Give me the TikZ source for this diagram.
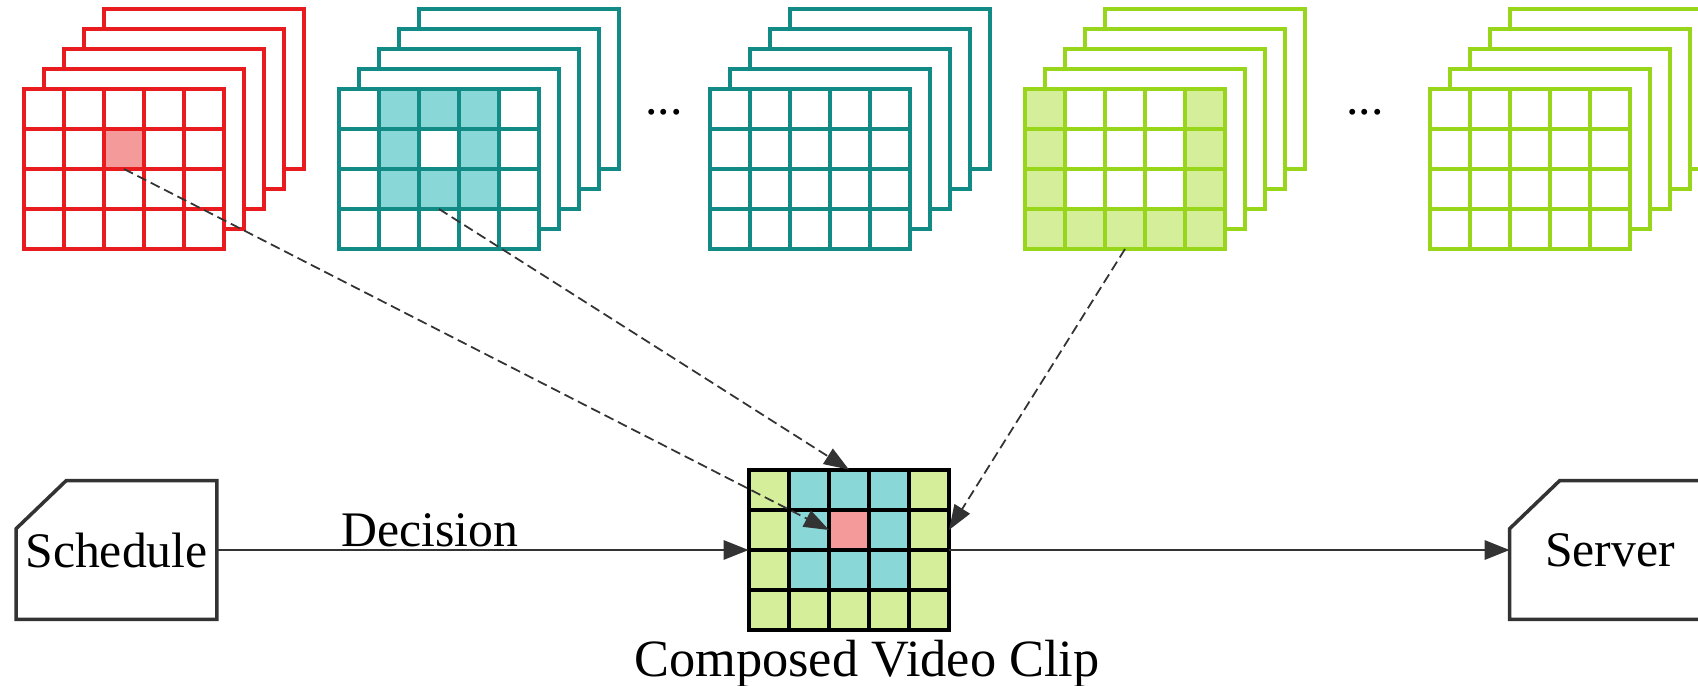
\documentclass[tikz,border=0pt]{standalone}
\usepackage{fontspec}
\setmainfont{Liberation Serif}
\usetikzlibrary{arrows.meta,positioning}

\definecolor{vred}{RGB}{232,28,30}
\definecolor{vredfill}{RGB}{244,154,154}
\definecolor{vteal}{RGB}{18,138,134}
\definecolor{vtealfill}{RGB}{138,215,215}
\definecolor{vgreen}{RGB}{152,214,28}
\definecolor{vgreenfill}{RGB}{212,238,154}
\definecolor{linegray}{RGB}{51,51,51}

\newcommand{\bigtext}{\fontsize{28.3}{34}\selectfont}

% back frames of a stack: #1 = left edge of the front frame, #2 = colour
\newcommand{\framestack}[2]{%
  \foreach \k in {4,3,2,1}
    \draw[#2, fill=white, line width=2pt] (#1+20*\k, 89-20*\k) rectangle ++(200,160);
  \fill[white] (#1,89) rectangle ++(200,160);
}
% 5x4 cell grid: #1 = left, #2 = top, #3 = colour
\newcommand{\cellgrid}[3]{%
  \foreach \i in {1,...,4}
    \draw[#3, line width=2pt] (#1+40*\i, #2) -- ++(0,160);
  \foreach \j in {1,2,3}
    \draw[#3, line width=2pt] (#1, #2+40*\j) -- ++(200,0);
  \draw[#3, line width=2pt] (#1,#2) rectangle ++(200,160);
}
% one filled cell: left, top, column, row, colour
\newcommand{\cellfill}[5]{\fill[#5] (#1+40*#3, #2+40*#4) rectangle ++(40,40);}

\tikzset{
  station/.style={minimum width=4cm, minimum height=2.76cm, inner sep=0pt, font=\bigtext},
  boxline/.style={draw=linegray, line width=2pt, line join=miter},
  flow/.style={draw=linegray, line width=1.7pt, -{Triangle[length=0.5cm, width=0.38cm]}},
  pick/.style={draw=linegray, line width=1pt, dash pattern=on 0.2cm off 0.1cm,
    -{Triangle[length=0.5cm, width=0.36cm]}},
}

\begin{document}
\begin{tikzpicture}[x=0.02cm, y=-0.02cm]
\useasboundingbox (0,0) rectangle (1698,686);

% red stack, one pixel picked
\framestack{24}{vred}
\cellfill{24}{89}{2}{1}{vredfill}
\cellgrid{24}{89}{vred}

% teal stacks, ring around the centre
\framestack{339}{vteal}
\foreach \c/\r in {1/0,2/0,3/0,1/1,3/1,1/2,2/2,3/2}
  {\cellfill{339}{89}{\c}{\r}{vtealfill}}
\cellgrid{339}{89}{vteal}
\framestack{710}{vteal}
\cellgrid{710}{89}{vteal}

% green stacks, outer border
\framestack{1025}{vgreen}
\foreach \c/\r in {0/0,0/1,0/2,0/3,4/0,4/1,4/2,4/3,1/3,2/3,3/3}
  {\cellfill{1025}{89}{\c}{\r}{vgreenfill}}
\cellgrid{1025}{89}{vgreen}
\framestack{1430}{vgreen}
\cellgrid{1430}{89}{vgreen}

\node[font=\bigtext, anchor=base] (dotsA) at (664,115) {...};
\node[font=\bigtext, anchor=base] (dotsB) at (1365,115) {...};

% composed clip
\node[minimum width=4cm, minimum height=3.2cm, inner sep=0pt] (clip) at (849,550) {};
\fill[vgreenfill] (749,470) rectangle ++(200,160);
\foreach \c/\r in {1/0,2/0,3/0,1/1,3/1,1/2,2/2,3/2}
  {\cellfill{749}{470}{\c}{\r}{vtealfill}}
\cellfill{749}{470}{2}{1}{vredfill}
\cellgrid{749}{470}{black}
\node[font=\fontsize{29.8}{34}\selectfont, anchor=base] (cliplabel) at (867,676) {Composed Video Clip};

% end boxes
\node[station] (sched) at (116.5,550) {Schedule};
\draw[boxline] (sched.south west) -- (sched.south east) -- (sched.north east)
  -- ([xshift=1cm]sched.north west) -- ([yshift=-0.96cm]sched.north west) -- cycle;
\node[station] (serv) at (1610,550) {Server};
\draw[boxline] (serv.south west) -- (serv.south east) -- (serv.north east)
  -- ([xshift=1cm]serv.north west) -- ([yshift=-0.96cm]serv.north west) -- cycle;

\draw[flow] (sched.east) -- node[pos=0.4, above, inner sep=1pt, font=\bigtext] (dec) {Decision} (clip.west);
\draw[flow] (clip.east) -- (serv.west);

% picked pixels go into the clip
\coordinate (redpx) at (124,169);
\coordinate (tealpx) at (439,209);
\coordinate (greenpx) at (1125,249);
\coordinate (clipmid) at (829,530);
\coordinate (clipright) at (949,530);
\draw[pick] (redpx) -- (clipmid);
\draw[pick] (tealpx) -- (clip.north);
\draw[pick] (greenpx) -- (clipright);
\end{tikzpicture}
\end{document}
